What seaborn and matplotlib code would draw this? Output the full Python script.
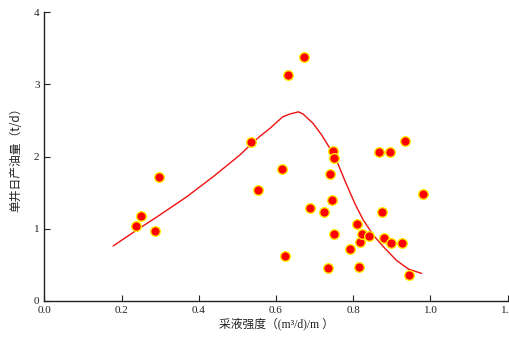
import matplotlib
matplotlib.use("Agg")
import matplotlib.pyplot as plt
import seaborn as sns
import pandas as pd

# scatter data
pt_x = [0.237, 0.250, 0.286, 0.297, 0.535, 0.553, 0.615, 0.623, 0.631, 0.672,
        0.688, 0.724, 0.734, 0.740, 0.744, 0.747, 0.750, 0.749, 0.791, 0.809,
        0.816, 0.817, 0.823, 0.842, 0.866, 0.875, 0.880, 0.894, 0.897, 0.926,
        0.933, 0.944, 0.981]
pt_y = [1.04, 1.18, 0.97, 1.72, 2.20, 1.54, 1.83, 0.62, 3.13, 3.38,
        1.28, 1.23, 0.46, 1.76, 1.40, 2.08, 1.98, 0.93, 0.72, 1.06,
        0.47, 0.82, 0.93, 0.90, 2.07, 1.23, 0.87, 2.07, 0.80, 0.80,
        2.22, 0.36, 1.48]

# trend curve
cv_x = [0.178, 0.239, 0.299, 0.368, 0.437, 0.506, 0.537, 0.558, 0.584, 0.617,
        0.636, 0.658, 0.670, 0.696, 0.718, 0.740, 0.755, 0.778, 0.804, 0.826,
        0.852, 0.878, 0.912, 0.943, 0.977]
cv_y = [0.76, 0.98, 1.19, 1.44, 1.72, 2.02, 2.18, 2.28, 2.39, 2.55,
        2.59, 2.62, 2.59, 2.46, 2.30, 2.11, 1.97, 1.67, 1.35, 1.12,
        0.91, 0.75, 0.56, 0.44, 0.38]

x_ticks = [0.0, 0.2, 0.4, 0.6, 0.8, 1.0, 1.2]
y_ticks = [0, 1, 2, 3, 4]

sns.set_style("ticks")
plt.rcParams['font.family'] = ['Liberation Serif', 'Noto Sans CJK SC']
plt.rcParams['xtick.direction'] = 'in'
plt.rcParams['ytick.direction'] = 'in'

fig = plt.figure(figsize=(5.10, 3.38), dpi=100)
ax = fig.add_axes([0.087, 0.110, 0.9085, 0.8536])

df_c = pd.DataFrame({"x": cv_x, "y": cv_y})
df_p = pd.DataFrame({"x": pt_x, "y": pt_y})
sns.lineplot(data=df_c, x="x", y="y", ax=ax, color="#ee1111", linewidth=1.0,
             sort=False, estimator=None)
sns.scatterplot(data=df_p, x="x", y="y", ax=ax, color="#ff0000",
                edgecolor="#ffee00", linewidth=1.0, s=48, zorder=3)

ax.set_xlim(0, 1.2)
ax.set_ylim(0, 4)
ax.set_xticks(x_ticks)
ax.set_xticklabels([f"{t:.1f}" for t in x_ticks])
ax.set_yticks(y_ticks)
ax.set_yticklabels([str(t) for t in y_ticks])
ax.tick_params(labelsize=8, length=4, width=0.8, colors="#222222")
for s in ["top", "right"]:
    ax.spines[s].set_visible(False)
for s in ["left", "bottom"]:
    ax.spines[s].set_linewidth(1.0)
    ax.spines[s].set_color("#222222")

ax.set_xlabel("采液强度（(m³/d)/m ）", fontsize=8.5, labelpad=2, color="#222222")
ax.set_ylabel("单井日产油量（t/d）", fontsize=8.5, labelpad=8, color="#222222",
              family=['Noto Sans CJK SC', 'Liberation Serif'])

fig.savefig("out.png", dpi=100)
